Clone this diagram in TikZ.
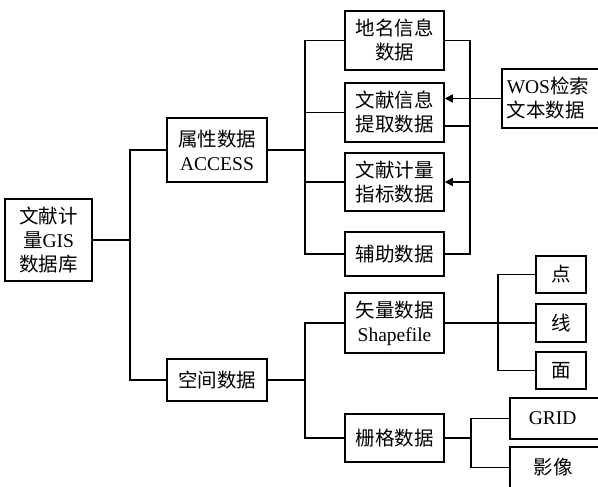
\documentclass[tikz,border=0pt]{standalone}
\usepackage{fontspec}
\setmainfont{Liberation Serif}
\newfontfamily\cjk{Noto Sans CJK SC}
\usetikzlibrary{arrows.meta,calc}
\tikzset{
  box/.style={draw, line width=1.5pt, inner sep=0pt, align=center, font=\fontsize{19.5}{24}\selectfont},
  conn/.style={line width=1.5pt},
  arr/.style={line width=1.5pt, -{Triangle[length=8pt,width=8pt]}}
}
\begin{document}
\begin{tikzpicture}[x=1pt,y=-1pt]
\useasboundingbox (0,0) rectangle (598,487);
\clip (0,0) rectangle (598,487);
% level 0
\node[box, minimum width=87, minimum height=82] (root) at (48.5,240) {{\cjk 文献计}\\{\cjk 量}GIS\\{\cjk 数据库}};
% level 1
\node[box, minimum width=100, minimum height=64] (attr) at (217,150) {{\cjk 属性数据}\\ACCESS};
\node[box, minimum width=100, minimum height=42] (spat) at (217,380) {\cjk 空间数据};
% level 2 upper
\node[box, minimum width=99, minimum height=59] (dm) at (394.5,40.5) {{\cjk 地名信息}\\{\cjk 数据}};
\node[box, minimum width=99, minimum height=59] (wx) at (394.5,112.5) {{\cjk 文献信息}\\{\cjk 提取数据}};
\node[box, minimum width=99, minimum height=58] (jl) at (394.5,182) {{\cjk 文献计量}\\{\cjk 指标数据}};
\node[box, minimum width=99, minimum height=44] (fz) at (394.5,254) {\cjk 辅助数据};
\node[box, anchor=west, text width=100, inner xsep=5, align=left, minimum height=59] (wos) at (501,98.5) {WOS{\cjk 检索}\\{\cjk 文本数据}};
% level 2 lower
\node[box, minimum width=99, minimum height=60] (sl) at (394.5,323) {{\cjk 矢量数据}\\Shapefile};
\node[box, minimum width=99, minimum height=48] (sg) at (394.5,438) {\cjk 栅格数据};
% level 3
\node[box, minimum width=50, minimum height=37] (dian) at (561,274.5) {\cjk 点};
\node[box, minimum width=50, minimum height=38] (xian) at (561,323) {\cjk 线};
\node[box, minimum width=50, minimum height=37] (mian) at (561,370.5) {\cjk 面};
\node[box, anchor=west, text width=100, inner xsep=19, align=left, minimum height=41] (grid) at (509,418.5) {GRID};
\node[box, anchor=west, text width=100, inner xsep=24, align=left, minimum height=41] (yx) at (509,467.5) {\cjk 影像};
% junctions
\coordinate (j1) at (130,240);
\coordinate (j2) at (305,150);
\coordinate (j3) at (305,380);
\coordinate (rt) at (470,40.5);
\coordinate (rb) at (470,254);
\coordinate (j4) at (498,323);
\coordinate (j5) at (471,438);
% connectors
\draw[conn] (root.east) -- (j1);
\draw[conn] (attr.west) -| (j1) |- (spat.west);
\draw[conn] (attr.east) -- (j2);
\draw[conn] (dm.west) -| (j2) |- (fz.west);
\draw[conn] (wx.west) -| (j2);
\draw[conn] (jl.west) -| (j2);
\draw[conn] (dm.east) -- (rt) -- (rb) -- (fz.east);
\draw[conn] ($(wx.east)+(0,13.5)$) -- ($(rt)!($(wx.east)+(0,13.5)$)!(rb)$);
\draw[arr] (rt |- jl.east) -- (jl.east);
\draw[arr] (wos.west) -- (wos.west -| wx.east);
\draw[conn] (spat.east) -- (j3);
\draw[conn] (sl.west) -| (j3) |- (sg.west);
\draw[conn] (sl.east) -- (j4);
\draw[conn] (dian.west) -| (j4) |- (mian.west);
\draw[conn] (j4) -- (xian.west);
\draw[conn] (sg.east) -- (j5);
\draw[conn] (grid.west) -| (j5) |- (yx.west);
\end{tikzpicture}
\end{document}
